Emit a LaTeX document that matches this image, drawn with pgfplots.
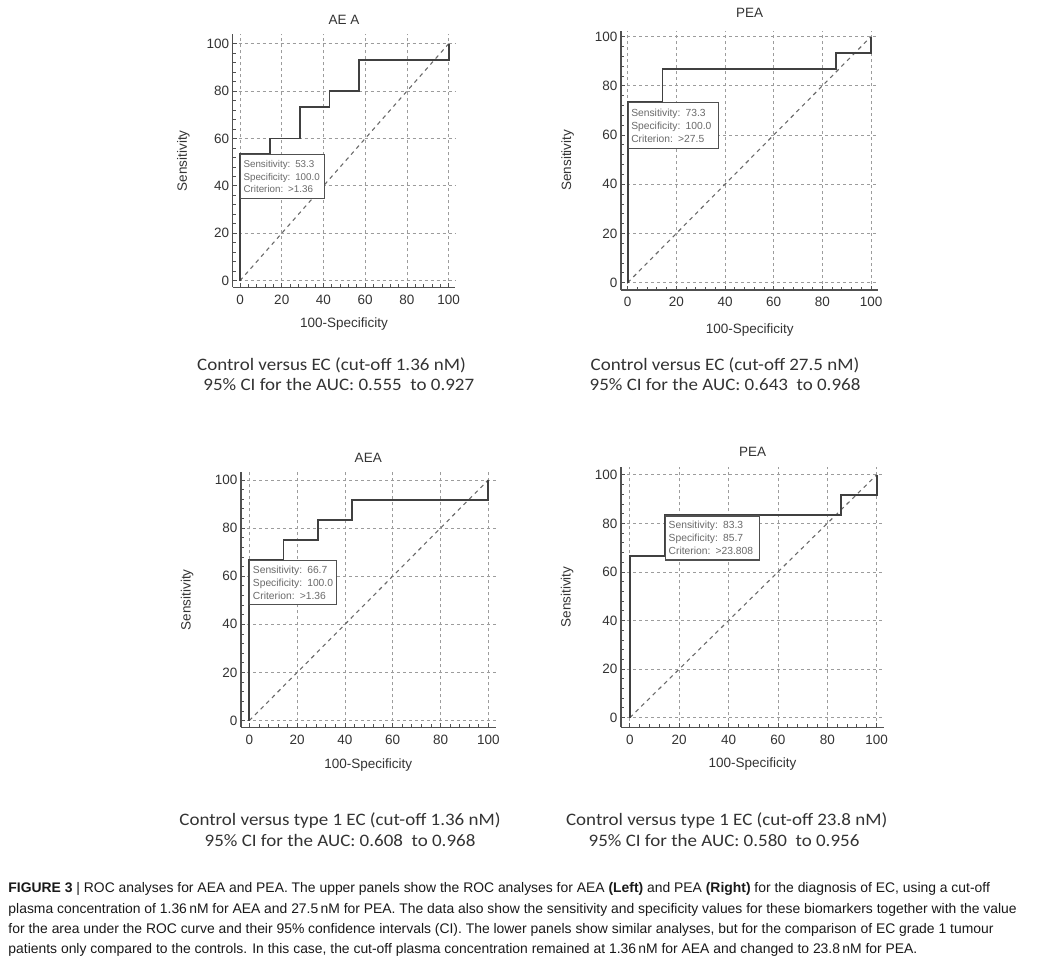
\documentclass[border=0pt]{standalone}
\usepackage{pgfplots}
\pgfplotsset{compat=1.18}
\usepackage{fontspec}
\setmainfont{Liberation Sans}
\newfontfamily\calibri[FakeStretch=1.085]{Carlito}

\definecolor{curvec}{HTML}{404040}
\definecolor{axisc}{HTML}{505050}
\definecolor{gridc}{HTML}{9C9C9C}
\definecolor{diagc}{HTML}{6A6A6A}
\definecolor{boxtext}{HTML}{6A6A6A}
\definecolor{txt}{HTML}{333333}

\pgfplotsset{
  roc/.style={
    scale only axis,
    axis x line=bottom, axis y line=left,
    axis line style={-, draw=axisc, line width=1.3pt},
    xtick={0,20,...,100}, ytick={0,20,...,100},
    minor tick num=4,
    tick align=inside,
    major tick length=4pt, minor tick length=3pt,
    every tick/.style={axisc, line width=0.8pt},
    grid=major,
    major grid style={gridc, line width=0.8pt, dash pattern=on 3pt off 3pt},
    /pgf/number format/assume math mode=true,
    ticklabel style={font=\fontsize{13.5}{14}\selectfont, text=txt},
    xticklabel style={yshift=-4pt},
    label style={font=\fontsize{13.5}{14}\selectfont, text=txt},
    every axis title shift=0pt,
    title style={font=\fontsize{13.5}{14}\selectfont, text=txt, anchor=center},
    xlabel={100-Specificity}, ylabel={Sensitivity},
    clip=false,
  },
  roccurve/.style={draw=curvec, line width=1.9pt},
  diag/.style={draw=diagc, line width=1.1pt, dash pattern=on 4pt off 4pt},
}
\tikzset{
  infobox/.style={draw=axisc, line width=1.1pt, fill=white, anchor=north west,
    inner xsep=3pt, inner ysep=0pt, align=left, text=boxtext,
    font=\fontsize{10.3}{13}\selectfont},
}

\begin{document}
\begin{tikzpicture}
\path[use as bounding box] (0pt,0pt) rectangle (1064pt,-962pt);

% upper left: AEA, control vs EC
\begin{axis}[roc, at={(232.7pt,-287.3pt)}, anchor=south west,
  width=222.7pt, height=253.1pt,
  xmin=-3.5, xmax=103.2, ymin=-2.8, ymax=104,
  title={AE A}, title style={at={(axis description cs:0.5,1.056)}},
  xlabel style={at={(axis description cs:0.5,-0.145)}, anchor=center},
  ylabel style={at={(axis description cs:-0.222,0.5)}, anchor=center}]
\addplot[diag] coordinates {(0,0) (100,100)};
\addplot[roccurve] coordinates {(0,0) (0,53.3) (14.3,53.3) (14.3,60) (28.6,60) (28.6,73.3)
  (42.9,73.3) (42.9,80) (57.1,80) (57.1,93.3) (100,93.3) (100,100)};
\node[infobox, font=\fontsize{9.8}{12.5}\selectfont, minimum width=84pt, minimum height=44pt, text width=78pt]
  at (axis cs:0,53.3) {Sensitivity: 53.3\\Specificity: 100.0\\Criterion: >1.36};
\end{axis}

% upper right: PEA, control vs EC
\begin{axis}[roc, at={(621pt,-290pt)}, anchor=south west,
  width=257.3pt, height=259.3pt,
  xmin=-2.75, xmax=103, ymin=-3, ymax=102.4,
  title={PEA}, title style={at={(axis description cs:0.5,1.068)}},
  xlabel style={at={(axis description cs:0.5,-0.154)}, anchor=center},
  ylabel style={at={(axis description cs:-0.207,0.5)}, anchor=center}]
\addplot[diag] coordinates {(0,0) (100,100)};
\addplot[roccurve] coordinates {(0,0) (0,73.3) (14.3,73.3) (14.3,86.7) (85.7,86.7)
  (85.7,93.3) (100,93.3) (100,100)};
\node[infobox, minimum width=90pt, minimum height=46pt, text width=84pt]
  at (axis cs:0,73.3) {Sensitivity: 73.3\\Specificity: 100.0\\Criterion: >27.5};
\end{axis}

% lower left: AEA, control vs type 1 EC
\begin{axis}[roc, at={(241pt,-727.3pt)}, anchor=south west,
  width=254.5pt, height=255.1pt,
  xmin=-3.5, xmax=103, ymin=-2.8, ymax=103.2,
  title={AEA}, title style={at={(axis description cs:0.5,1.056)}},
  xlabel style={at={(axis description cs:0.5,-0.146)}, anchor=center},
  ylabel style={at={(axis description cs:-0.212,0.5)}, anchor=center}]
\addplot[diag] coordinates {(0,0) (100,100)};
\addplot[roccurve] coordinates {(0,0) (0,66.7) (14.3,66.7) (14.3,75) (28.6,75) (28.6,83.3)
  (42.9,83.3) (42.9,91.7) (100,91.7) (100,100)};
\node[infobox, minimum width=87pt, minimum height=44pt, text width=81pt]
  at (axis cs:0,66.7) {Sensitivity: 66.7\\Specificity: 100.0\\Criterion: >1.36};
\end{axis}

% lower right: PEA, control vs type 1 EC
\begin{axis}[roc, at={(621pt,-727.3pt)}, anchor=south west,
  width=263pt, height=260.7pt,
  xmin=-3.6, xmax=103, ymin=-4, ymax=103.4,
  title={PEA}, title style={at={(axis description cs:0.5,1.056)}},
  xlabel style={at={(axis description cs:0.5,-0.14)}, anchor=center},
  ylabel style={at={(axis description cs:-0.205,0.5)}, anchor=center}]
\addplot[diag] coordinates {(0,0) (100,100)};
\addplot[roccurve] coordinates {(0,0) (0,66.7) (14.3,66.7) (14.3,83.3) (85.7,83.3)
  (85.7,91.7) (100,91.7) (100,100)};
\node[infobox, minimum width=94pt, minimum height=44pt, text width=88pt]
  at (axis cs:14.3,83.3) {Sensitivity: 83.3\\Specificity: 85.7\\Criterion: >23.808};
\end{axis}

% panel notes
\begin{scope}[every node/.style={anchor=base, inner sep=0pt, text=black!80,
    font=\calibri\fontsize{17.5}{19}\selectfont}]
\node at (331.5pt,-370.7pt) {Control versus EC (cut-off 1.36 nM)};
\node at (338.8pt,-390.7pt) {95\% CI for the AUC: 0.555 \ to 0.927};
\node at (725pt,-370.7pt) {Control versus EC (cut-off 27.5 nM)};
\node at (725pt,-390.7pt) {95\% CI for the AUC: 0.643 \ to 0.968};
\node at (340pt,-825pt) {Control versus type 1 EC (cut-off 1.36 nM)};
\node at (340pt,-846.7pt) {95\% CI for the AUC: 0.608 \ to 0.968};
\node at (726.7pt,-825pt) {Control versus type 1 EC (cut-off 23.8 nM)};
\node at (724pt,-846.7pt) {95\% CI for the AUC: 0.580 \ to 0.956};
\end{scope}

% caption
\begin{scope}[every node/.style={anchor=base west, inner sep=0pt, text=black!90,
    font=\fontsize{13.9}{15}\selectfont}]
\node at (8.3pt,-892.7pt) {\textbf{FIGURE 3} \textbar\ ROC analyses for AEA and PEA. The upper panels show the ROC analyses for AEA \textbf{(Left)} and PEA \textbf{(Right)} for the diagnosis of EC, using a cut-off};
\node at (8.3pt,-913pt) {plasma concentration of 1.36\,nM for AEA and 27.5\,nM for PEA. The data also show the sensitivity and specificity values for these biomarkers together with the value};
\node at (8.3pt,-933.5pt) {for the area under the ROC curve and their 95\% confidence intervals (CI). The lower panels show similar analyses, but for the comparison of EC grade 1 tumour};
\node at (8.3pt,-953.5pt) {patients only compared to the controls. In this case, the cut-off plasma concentration remained at 1.36\,nM for AEA and changed to 23.8\,nM for PEA.};
\end{scope}
\end{tikzpicture}
\end{document}
